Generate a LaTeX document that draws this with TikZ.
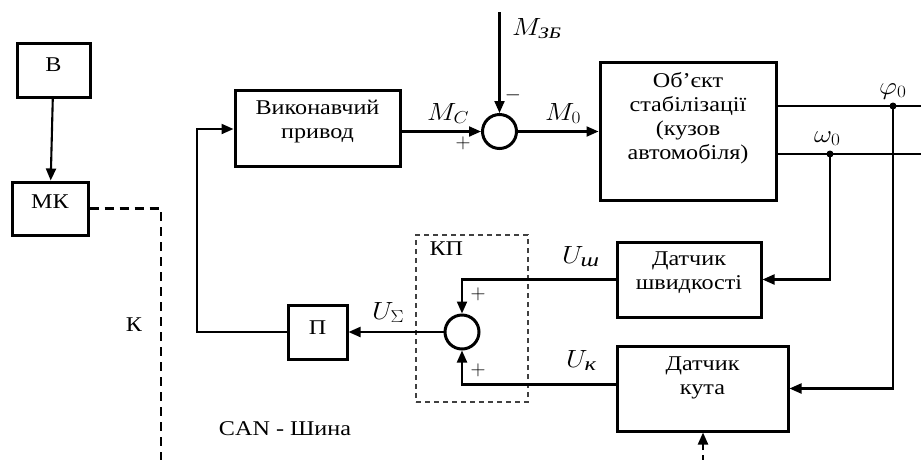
\documentclass[tikz,border=0pt]{standalone}
\usepackage{fontspec}
\setmainfont[FakeStretch=1.15]{Liberation Serif}
\usepackage{graphicx}
\usetikzlibrary{arrows.meta,calc}
\newcommand\mlbl[1]{\scalebox{1.12}[1]{#1}}
\newcommand\cysub[2]{\mbox{\fontsize{#1}{#1}\selectfont\itshape #2}}
\begin{document}
\begin{tikzpicture}[x=1pt,y=-1pt,
  blk/.style={draw,line width=3pt,inner sep=0pt},
  sumc/.style={draw,circle,line width=3pt,minimum size=34pt,inner sep=0pt},
  conn/.style={line width=2.1pt},
  arr/.style={conn,-{Triangle[length=12pt,width=10pt]}},
  lbl/.style={inner sep=0pt,font=\fontsize{26}{30}\selectfont},
  sign/.style={inner sep=0pt,font=\fontsize{22}{22}\selectfont},
  txt/.style={inner sep=0pt,align=center,font=\fontsize{21}{24}\selectfont},
  bus/.style={line width=2.2pt,dash pattern=on 9pt off 6pt},
  kpbox/.style={draw,draw=black!75,line width=1.4pt,dash pattern=on 5pt off 4pt,inner sep=0pt},
  jdot/.style={circle,fill,inner sep=0pt,minimum size=7pt}
]
\useasboundingbox (0,0) rectangle (921,459);

% blocks
\node[blk,minimum width=73pt,minimum height=54pt,label={[txt,yshift=5.5pt]center:В}] (b) at (53.5,70) {};
\node[blk,minimum width=76pt,minimum height=53pt,label={[txt,yshift=6.5pt]center:МК}] (mk) at (50,208.5) {};
\node[blk,minimum width=165pt,minimum height=76pt,label={[txt,yshift=6pt]center:Виконавчий\\привод}] (vp) at (317.5,128) {};
\node[blk,minimum width=176pt,minimum height=138pt,label={[txt,yshift=13pt]center:Об’єкт\\стабілізації\\(кузов\\автомобіля)}] (obj) at (688,131) {};
\node[blk,minimum width=144pt,minimum height=75pt,label={[txt,yshift=6.5pt]center:Датчик\\швидкості}] (dsh) at (689,279.5) {};
\node[blk,minimum width=171pt,minimum height=85pt,label={[txt,yshift=10.5pt]center:Датчик\\кута}] (dk) at (702.5,388.5) {};
\node[blk,minimum width=59pt,minimum height=54pt,label={[txt,yshift=4.5pt]center:П}] (p) at (317.5,332) {};

% summing junctions
\node[sumc] (s1) at (499.5,131.5) {};
\node[sumc] (s2) at (462,332) {};

% KP dashed box
\node[kpbox,minimum width=112pt,minimum height=167pt,label={[txt,anchor=north west,xshift=14pt,yshift=-7pt]north west:КП}] (kp) at (472,318.5) {};

% coordinates
\coordinate (mzb) at (499.5,12);
\coordinate (phidot) at (893,106);
\coordinate (omdot) at (830,154);
\coordinate (phiout) at (933,106);
\coordinate (omout) at (933,154);
\coordinate (fbx) at (197,129);
\coordinate (buscorner) at (161,208.5);
\coordinate (busend) at (161,462);
\coordinate (dkin) at (703,462);

% connectors
\draw[arr] (b) -- (mk);
\draw[bus] (mk.east) -- (buscorner) -- (busend);
\draw[arr] (vp.east |- s1) -- (s1);
\draw[arr] (mzb) -- (s1);
\draw[arr] (s1) -- (obj.west |- s1);
\draw[arr] (obj.east |- phidot) -- (phiout);
\draw[arr] (obj.east |- omdot) -- (omout);
\node[jdot] (pd) at (phidot) {};
\node[jdot] (od) at (omdot) {};
\draw[arr] (phidot) |- (dk.east);
\draw[arr] (omdot) |- (dsh.east);
\draw[arr] (dsh.west) -| (s2);
\draw[arr] ($(dk.west)+(0,-4)$) -| (s2);
\draw[arr] (s2) -- (p);
\draw[arr] (p.west) -| (fbx) -- (vp.west |- fbx);
\draw[conn,dash pattern=on 7pt off 5pt,-{Triangle[length=12pt,width=10pt]}] (dkin) -- (dk.south -| dkin);

% labels
\node[lbl,anchor=base west] (lmc) at (427,120) {\mlbl{$M_C$}};
\node[lbl,anchor=base west] (lm0) at (545,120) {\mlbl{$M_0$}};
\node[lbl,anchor=base west] (lmzb) at (512,35) {\mlbl{$M_{\cysub{16}{ЗБ}}$}};
\node[sign] (minus) at (513,95) {$-$};
\node[sign] (plus1) at (463,143) {$+$};
\node[sign] (plus2) at (478,294) {$+$};
\node[sign] (plus3) at (478,370) {$+$};
\node[lbl,anchor=base west] (lus) at (372,319) {\mlbl{$U_\Sigma$}};
\node[lbl,anchor=base west] (lush) at (562,263) {\mlbl{$U_{\cysub{19}{ш}}$}};
\node[lbl,anchor=base west] (luk) at (566,367) {\mlbl{$U_{\cysub{19}{к}}$}};
\node[lbl,anchor=base west] (lphi) at (879,94) {\mlbl{$\varphi_0$}};
\node[lbl,anchor=base west] (lom) at (814,142) {\mlbl{$\omega_0$}};
\node[txt] (lk) at (134,325) {К};
\node[txt] (lcan) at (285,429) {CAN - Шина};
\end{tikzpicture}
\end{document}
